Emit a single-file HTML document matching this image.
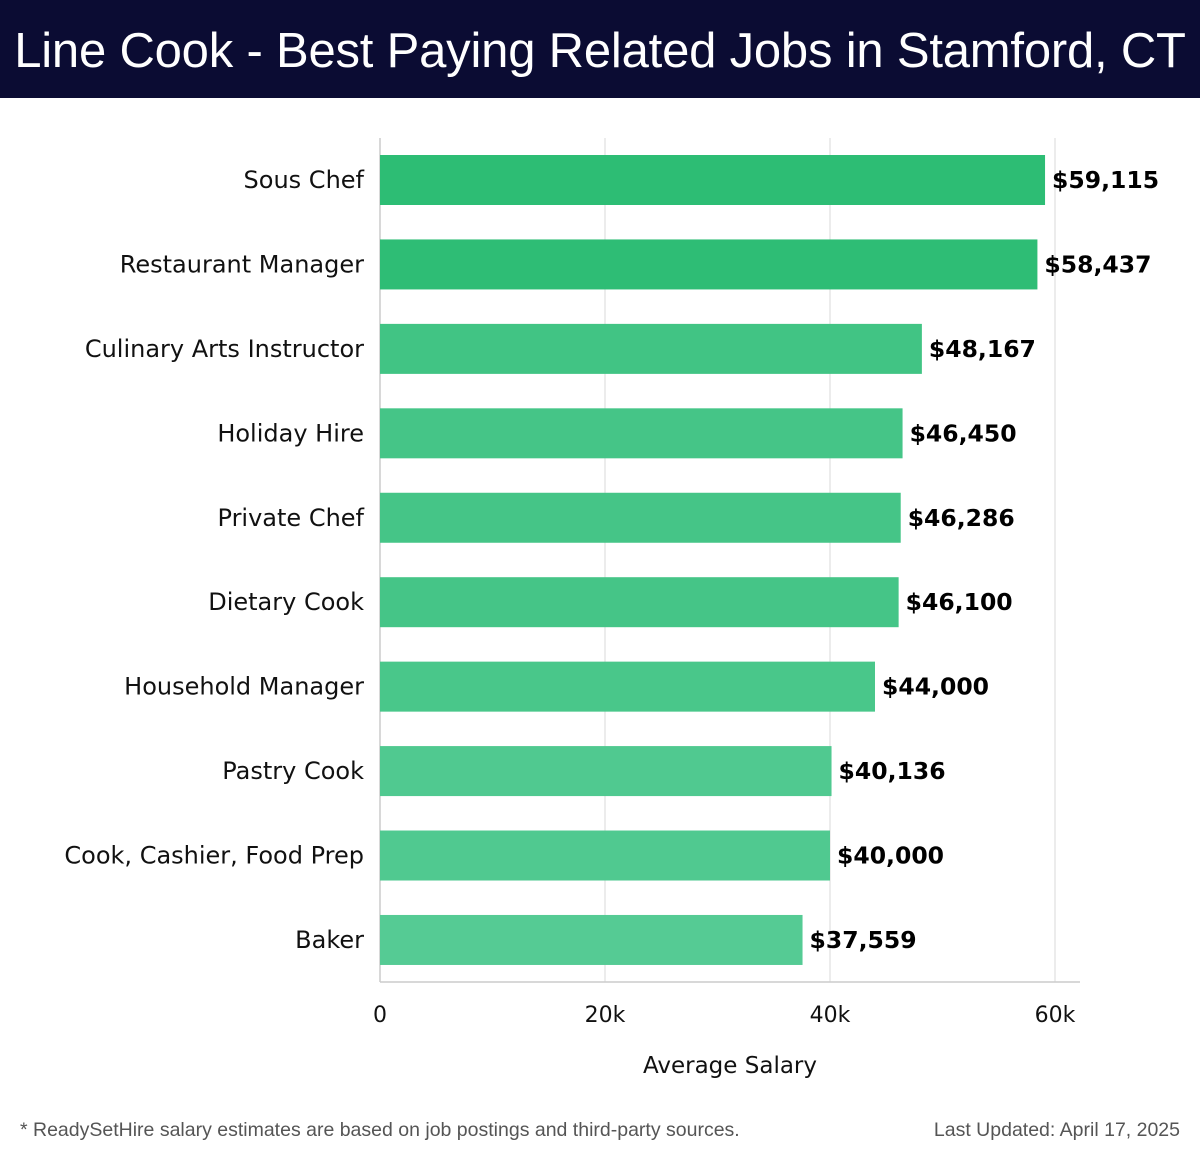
<!DOCTYPE html>
<html><head><meta charset="utf-8"><style>
body{margin:0;width:1200px;height:1158px;background:#fff;font-family:"Liberation Sans",sans-serif;overflow:hidden}
#hdr{position:absolute;left:0;top:0;width:1200px;height:98px;background:#0b0c33;color:#fff;font-size:49px;line-height:102px;text-align:center;white-space:nowrap;letter-spacing:-0.2px}
svg{position:absolute;left:0;top:0}
.foot{position:absolute;top:1119px;font-size:19.5px;color:#555}
</style></head><body>
<div id="hdr">Line Cook - Best Paying Related Jobs in Stamford, CT</div>
<svg id="chart" width="1200" height="1158"></svg>
<div class="foot" style="left:20px">* ReadySetHire salary estimates are based on job postings and third-party sources.</div>
<div class="foot" style="right:20px">Last Updated: April 17, 2025</div>
<script>
const categories=["Sous Chef","Restaurant Manager","Culinary Arts Instructor","Holiday Hire","Private Chef","Dietary Cook","Household Manager","Pastry Cook","Cook, Cashier, Food Prep","Baker"];
const salaries=[59115,58437,48167,46450,46286,46100,44000,40136,40000,37559];
const tickValues=[0,20000,40000,60000];
const tickLabels=["0","20k","40k","60k"];
const NS="http://www.w3.org/2000/svg";
const svg=document.getElementById('chart');
const x0=380,xPer=675/60000,yTop=155,pitch=84.44,bh=50;
const xs=v=>x0+v*xPer, ys=i=>yTop+i*pitch;
const DV='"DejaVu Sans",sans-serif';
function mk(t,a){const e=document.createElementNS(NS,t);for(const k in a)e.setAttribute(k,a[k]);svg.appendChild(e);return e;}
const maxV=Math.max(...salaries),minV=Math.min(...salaries);
function col(v){const t=(maxV-v)/(maxV-minV);const c0=[45,189,116],c1=[85,203,148];return `rgb(${c0.map((c,i)=>Math.round(c+(c1[i]-c)*t)).join(',')})`;}
tickValues.forEach((v,i)=>{
 const g=mk('line',{x1:xs(v),x2:xs(v),y1:138,y2:982,stroke:i==0?'#ccc':'#e6e6e6','stroke-width':1.5});
 
 const t=mk('text',{x:xs(v),y:1022,'text-anchor':'middle','font-size':22,fill:'#111','font-family':DV});t.textContent=tickLabels[i];
 
});
const ax=mk('line',{x1:x0,x2:1080,y1:982,y2:982,stroke:'#ccc','stroke-width':1.5});

salaries.forEach((v,i)=>{
 const r=mk('rect',{x:x0,y:ys(i),width:xs(v)-x0,height:bh,fill:col(v)});
 
 const l=mk('text',{x:364,y:ys(i)+bh/2+8,'text-anchor':'end','font-size':24,fill:'#111','font-family':DV});l.textContent=categories[i];
 
 const vl=mk('text',{x:xs(v)+7,y:ys(i)+bh/2+8,'font-size':23.5,'font-weight':'bold',fill:'#000','font-family':DV});vl.textContent='$'+v.toLocaleString('en-US');
 
});
const xt=mk('text',{x:730,y:1073,'text-anchor':'middle','font-size':23,fill:'#111','font-family':DV});xt.textContent='Average Salary';

</script>
</body></html>
